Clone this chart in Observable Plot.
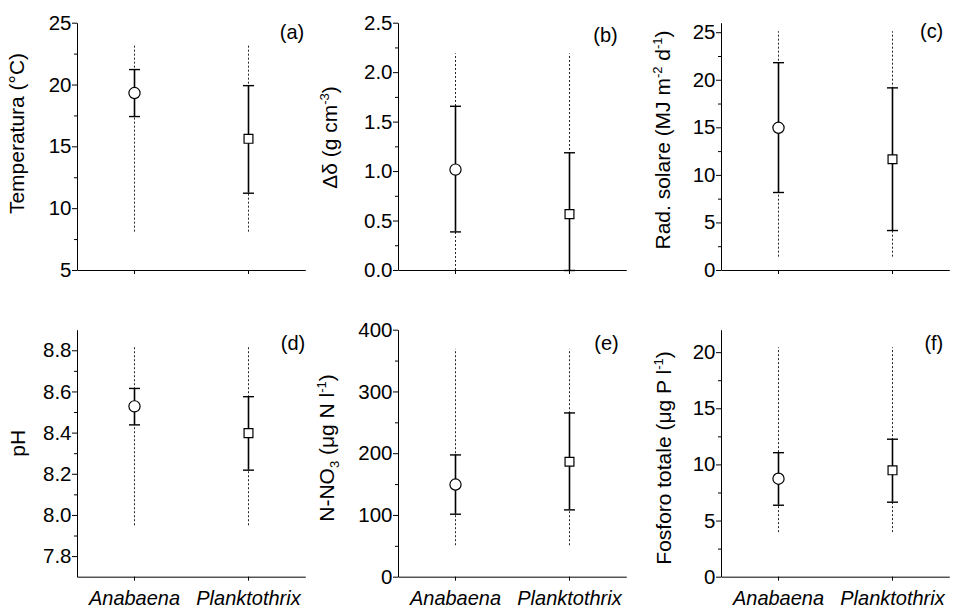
<!DOCTYPE html>
<html><head><meta charset="utf-8">
<script src="https://cdn.jsdelivr.net/npm/d3@7"></script>
<script src="https://cdn.jsdelivr.net/npm/@observablehq/plot@0.6"></script>
<style>
html,body{margin:0;padding:0;background:#fff;overflow:hidden}
#chart{position:relative;width:954px;height:609px;font-family:"Liberation Sans",Arial,sans-serif}
#chart svg{position:absolute}
</style></head><body><div id="chart"></div>
<script>
// ---- data ----
const species = ["Anabaena", "Planktothrix"];

const tempMean = [19.35, 15.65], tempErrLo = [17.45, 11.25], tempErrHi = [21.25, 19.95], tempMin = [8.1, 8.1], tempMax = [23.3, 23.3];
const densMean = [1.02, 0.57], densErrLo = [0.39, 0.0], densErrHi = [1.66, 1.19], densMin = [0.0, 0.0], densMax = [2.19, 2.19];
const radMean = [15.0, 11.7], radErrLo = [8.2, 4.2], radErrHi = [21.85, 19.2], radMin = [1.4, 1.4], radMax = [25.1, 25.1];
const phMean = [8.53, 8.40], phErrLo = [8.44, 8.22], phErrHi = [8.617, 8.577], phMin = [7.95, 7.95], phMax = [8.82, 8.82];
const no3Mean = [150, 187], no3ErrLo = [102, 109], no3ErrHi = [198, 266], no3Min = [51, 51], no3Max = [369, 369];
const tpMean = [8.77, 9.52], tpErrLo = [6.41, 6.68], tpErrHi = [11.09, 12.29], tpMin = [3.97, 3.97], tpMax = [20.43, 20.43];

const tempTicks = [5, 10, 15, 20, 25], tempMinor = [7.5, 12.5, 17.5, 22.5];
const densTicks = [0, 0.5, 1.0, 1.5, 2.0, 2.5], densMinor = [0.25, 0.75, 1.25, 1.75, 2.25];
const radTicks = [0, 5, 10, 15, 20, 25], radMinor = [2.5, 7.5, 12.5, 17.5, 22.5];
const phTicks = [7.8, 8.0, 8.2, 8.4, 8.6, 8.8], phMinor = [7.9, 8.1, 8.3, 8.5, 8.7];
const no3Ticks = [0, 100, 200, 300, 400], no3Minor = [50, 150, 250, 350];
const tpTicks = [0, 5, 10, 15, 20], tpMinor = [2.5, 7.5, 12.5, 17.5];

// ---- layout ----
const FONT = '"Liberation Sans", Arial, sans-serif';
const colAxisX = [76.7, 398.3, 720.7];
const frameW = 228.3;
const rows = [
  {svgTop: 0, mt: 22.7, frameH: 247.3, mb: 22},
  {svgTop: 300, mt: 29.7, frameH: 247.0, mb: 32.3}
];
const ML = 77, MR = 5;

const panels = [
  {row: 0, col: 0, mean: tempMean, errLo: tempErrLo, errHi: tempErrHi, min: tempMin, max: tempMax,
   domain: [5, 25], ticks: tempTicks, minor: tempMinor, fmt: d3.format("d"),
   label: [["Temperatura (°C)"]], lx: 23.5, ly: 133.5, tag: "(a)", tx: 304, ty: 38.8},
  {row: 0, col: 1, mean: densMean, errLo: densErrLo, errHi: densErrHi, min: densMin, max: densMax,
   domain: [0, 2.5], ticks: densTicks, minor: densMinor, fmt: d3.format(".1f"),
   label: [["Δδ (g cm"], ["-3", "sup"], [")"]], lx: 337.5, ly: 137.5, tag: "(b)", tx: 618, ty: 42.5},
  {row: 0, col: 2, mean: radMean, errLo: radErrLo, errHi: radErrHi, min: radMin, max: radMax,
   domain: [0, 26], ticks: radTicks, minor: radMinor, fmt: d3.format("d"),
   label: [["Rad. solare (MJ m"], ["-2", "sup"], [" d"], ["-1", "sup"], [")"]], lx: 670, ly: 140, tag: "(c)", tx: 943, ty: 38.5},
  {row: 1, col: 0, mean: phMean, errLo: phErrLo, errHi: phErrHi, min: phMin, max: phMax,
   domain: [7.7, 8.9], ticks: phTicks, minor: phMinor, fmt: d3.format(".1f"),
   label: [["pH"]], lx: 24.5, ly: 443.3, tag: "(d)", tx: 305, ty: 349.8},
  {row: 1, col: 1, mean: no3Mean, errLo: no3ErrLo, errHi: no3ErrHi, min: no3Min, max: no3Max,
   domain: [0, 400], ticks: no3Ticks, minor: no3Minor, fmt: d3.format("d"),
   label: [["N-NO"], ["3", "sub"], [" (μg N l"], ["-1", "sup"], [")"]], lx: 334, ly: 448, tag: "(e)", tx: 619, ty: 349.8},
  {row: 1, col: 2, mean: tpMean, errLo: tpErrLo, errHi: tpErrHi, min: tpMin, max: tpMax,
   domain: [0, 22], ticks: tpTicks, minor: tpMinor, fmt: d3.format("d"),
   label: [["Fosforo totale (μg P l"], ["-1", "sup"], [")"]], lx: 671, ly: 458, tag: "(f)", tx: 943, ty: 349.8}
];

const capSymbol = {
  draw(ctx) { ctx.moveTo(-5.5, 0); ctx.lineTo(5.5, 0); }
};

const chart = document.getElementById("chart");

for (const p of panels) {
  const r = rows[p.row];
  const data = species.map((s, i) => ({
    species: s, mean: p.mean[i], errLo: p.errLo[i], errHi: p.errHi[i], min: p.min[i], max: p.max[i]
  }));
  const W = ML + frameW + MR;
  const H = r.mt + r.frameH + r.mb;
  const per = frameW + r.frameH;
  const svgLeft = colAxisX[p.col] - ML;
  const svg = Plot.plot({
    width: W, height: H,
    marginLeft: ML, marginRight: MR, marginTop: r.mt, marginBottom: r.mb,
    style: {fontFamily: FONT, fontSize: "20.5px", color: "black", background: "transparent", overflow: "visible"},
    x: {type: "point", domain: species, padding: 0.5, label: null},
    y: {domain: p.domain, label: null},
    marks: [
      Plot.axisY(p.ticks, {tickSize: 5, tickPadding: 1, tickFormat: p.fmt, label: null, fontSize: 20.5}),
      Plot.axisY(p.minor, {tickSize: 3, tickFormat: () => "", label: null}),
      Plot.axisX(species, {tickSize: 4, tickPadding: 10, label: null, fontSize: 20,
        fontStyle: "italic", tickFormat: p.row === 1 ? (d => d) : (() => "")}),
      Plot.ruleX(data, {x: "species", y1: "min", y2: "max", stroke: "#222", strokeWidth: 1, strokeDasharray: "2,2"}),
      Plot.ruleX(data, {x: "species", y1: "errLo", y2: "errHi", stroke: "black", strokeWidth: 1.6}),
      Plot.dot(data, {x: "species", y: "errLo", symbol: capSymbol, stroke: "black", strokeWidth: 1.4}),
      Plot.dot(data, {x: "species", y: "errHi", symbol: capSymbol, stroke: "black", strokeWidth: 1.4}),
      Plot.frame({stroke: "black", strokeWidth: 1, strokeDasharray: `0,${per},${per}`}),
      Plot.dot(data, {filter: d => d.species === "Anabaena", x: "species", y: "mean", r: 5.6,
        fill: "white", stroke: "black", strokeWidth: 1.2}),
      Plot.dot(data, {filter: d => d.species === "Planktothrix", x: "species", y: "mean", symbol: "square", r: 5.0,
        fill: "white", stroke: "black", strokeWidth: 1.2})
    ]
  });
  svg.style.left = svgLeft + "px";
  svg.style.top = r.svgTop + "px";
  const s = d3.select(svg);
  // enforce tick-label fonts
  s.selectAll("text").each(function () {
    const g = this.closest("g[aria-label]");
    const lab = g ? g.getAttribute("aria-label") : "";
    this.style.fontFamily = FONT;
    if (lab.startsWith("x-axis")) {
      this.style.fontSize = "20px";
      this.style.fontStyle = "italic";
    } else {
      this.style.fontSize = "20.5px";
    }
  });
  // y-axis title
  const t = s.append("text")
    .attr("transform", `translate(${p.lx - svgLeft},${p.ly - r.svgTop}) rotate(-90)`)
    .attr("text-anchor", "middle")
    .attr("font-family", FONT)
    .attr("font-size", 21)
    .attr("fill", "black")
    .attr("dy", "0.35em");
  let shift = 0;
  for (const [txt, kind] of p.label) {
    const sp = t.append("tspan").text(txt);
    let target = 0;
    if (kind === "sup") { sp.attr("font-size", 13); target = -8; }
    else if (kind === "sub") { sp.attr("font-size", 13); target = 5; }
    sp.attr("dy", target - shift);
    shift = target;
  }
  // panel tag
  s.append("text")
    .attr("x", p.tx - svgLeft).attr("y", p.ty - r.svgTop)
    .attr("text-anchor", "end")
    .attr("font-family", FONT).attr("font-size", 20).attr("fill", "black")
    .text(p.tag);
  chart.appendChild(svg);
}
</script>
</body></html>
